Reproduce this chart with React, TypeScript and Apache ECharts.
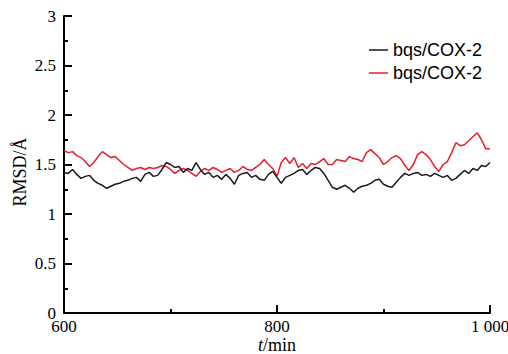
import React, { useEffect, useRef } from "react";
import * as echarts from "echarts";

// time sampling (min)
const T_START = 600;
const T_STEP = 4;

// RMSD values (Å), one every 4 min from 600 to 1000
const blackRmsd = [
  1.42, 1.41, 1.45, 1.40, 1.36, 1.38, 1.39, 1.34, 1.31, 1.29,
  1.26, 1.28, 1.30, 1.31, 1.33, 1.34, 1.36, 1.37, 1.33, 1.40,
  1.42, 1.38, 1.39, 1.45, 1.52, 1.50, 1.47, 1.48, 1.42, 1.46,
  1.44, 1.52, 1.45, 1.40, 1.42, 1.37, 1.39, 1.35, 1.40, 1.36,
  1.30, 1.39, 1.41, 1.42, 1.37, 1.39, 1.35, 1.34, 1.40, 1.43,
  1.37, 1.31, 1.37, 1.39, 1.41, 1.44, 1.45, 1.40, 1.44, 1.47,
  1.46, 1.41, 1.34, 1.27, 1.25, 1.27, 1.29, 1.26, 1.22, 1.26,
  1.28, 1.29, 1.31, 1.34, 1.35, 1.30, 1.28, 1.27, 1.32, 1.37,
  1.41, 1.39, 1.41, 1.42, 1.39, 1.40, 1.38, 1.41, 1.39, 1.37,
  1.39, 1.34, 1.36, 1.40, 1.44, 1.41, 1.46, 1.44, 1.49, 1.48,
  1.52,
];
const redRmsd = [
  1.64, 1.62, 1.63, 1.59, 1.57, 1.53, 1.48, 1.52, 1.58, 1.63,
  1.60, 1.57, 1.58, 1.54, 1.50, 1.47, 1.44, 1.46, 1.47, 1.45,
  1.47, 1.46, 1.47, 1.49, 1.48, 1.45, 1.41, 1.44, 1.46, 1.44,
  1.41, 1.38, 1.43, 1.46, 1.44, 1.47, 1.45, 1.42, 1.44, 1.46,
  1.42, 1.44, 1.48, 1.45, 1.44, 1.47, 1.50, 1.55, 1.50, 1.46,
  1.38, 1.52, 1.57, 1.51, 1.57, 1.47, 1.51, 1.46, 1.51, 1.50,
  1.53, 1.56, 1.50, 1.50, 1.55, 1.54, 1.53, 1.58, 1.56, 1.55,
  1.53, 1.62, 1.65, 1.61, 1.57, 1.50, 1.53, 1.57, 1.59, 1.56,
  1.49, 1.44, 1.50, 1.60, 1.63, 1.60, 1.55, 1.48, 1.43, 1.50,
  1.53, 1.62, 1.72, 1.69, 1.70, 1.74, 1.78, 1.82, 1.75, 1.66,
  1.66,
];

const seriesKeys = ["black", "red"];
const legendLabels = ["bqs/COX-2", "bqs/COX-2"];
const seriesColors = ["#1a1a1a", "#e61e2a"];
const xLabelMap: Record<number, string> = { 600: "600", 800: "800", 1000: "1 000" };
const yTitle = "RMSD/Å";

const SERIF = "'Liberation Serif', 'Times New Roman', serif";
const SANS = "'Liberation Sans', Arial, sans-serif";

export default function App() {
  const ref = useRef<HTMLDivElement>(null);

  useEffect(() => {
    if (!ref.current) return;
    const chart = echarts.init(ref.current, null, { renderer: "svg" });
    const toPairs = (arr: number[]) => arr.map((v, i) => [T_START + i * T_STEP, v]);
    const datasets = [blackRmsd, redRmsd];

    chart.setOption({
      animation: false,
      backgroundColor: "#ffffff",
      grid: { left: 64, right: 18, top: 16, bottom: 41, containLabel: false, outerBoundsMode: "none" },
      xAxis: {
        type: "value",
        min: 600,
        max: 1000,
        interval: 200,
        axisLine: { lineStyle: { color: "#000", width: 2 } },
        axisTick: { inside: true, length: 8, lineStyle: { color: "#000", width: 2 } },
        minorTick: { show: true, splitNumber: 2, length: 4, lineStyle: { color: "#000", width: 2 } },
        splitLine: { show: false },
        axisLabel: {
          color: "#000",
          fontFamily: SERIF,
          fontSize: 17,
          lineHeight: 15,
          margin: 6,
          formatter: (v: number) => xLabelMap[v] ?? String(v),
        },
        name: "{i|t}/min",
        nameLocation: "middle",
        nameGap: 23,
        nameMoveOverlap: false,
        nameTextStyle: {
          color: "#000",
          fontFamily: SERIF,
          fontSize: 18,
          lineHeight: 17,
          rich: { i: { fontStyle: "italic", fontFamily: SERIF, fontSize: 18, lineHeight: 17, color: "#000" } },
        },
      },
      yAxis: {
        type: "value",
        min: 0,
        max: 3,
        interval: 0.5,
        axisLine: { show: true, lineStyle: { color: "#000", width: 2 } },
        axisTick: { show: true, inside: true, length: 8, lineStyle: { color: "#000", width: 2 } },
        minorTick: { show: true, splitNumber: 2, length: 4, lineStyle: { color: "#000", width: 2 } },
        splitLine: { show: false },
        axisLabel: { color: "#000", fontFamily: SERIF, fontSize: 17, lineHeight: 14, margin: 8 },
      },
      legend: {
        orient: "vertical",
        left: 364,
        top: 36,
        icon: "rect",
        itemWidth: 19,
        itemHeight: 1.5,
        itemGap: 5,
        textStyle: { color: "#000", fontFamily: SANS, fontSize: 18, lineHeight: 18 },
        formatter: (name: string) => legendLabels[seriesKeys.indexOf(name)],
        data: seriesKeys,
      },
      graphic: [
        {
          type: "text",
          x: 20,
          y: 172,
          rotation: Math.PI / 2,
          style: {
            text: yTitle,
            fontFamily: SERIF,
            fontSize: 18,
            fill: "#000",
            textAlign: "center",
            textVerticalAlign: "middle",
          },
        },
      ],
      series: seriesKeys.map((key, i) => ({
        name: key,
        type: "line",
        data: toPairs(datasets[i]),
        showSymbol: false,
        symbol: "none",
        lineStyle: { color: seriesColors[i], width: 1.5 },
        itemStyle: { color: seriesColors[i] },
        z: i === 0 ? 3 : 2,
      })),
    });

    return () => chart.dispose();
  }, []);

  return (
    <div
      ref={ref}
      style={{ position: "fixed", left: 0, top: 0, width: 508, height: 354 }}
    />
  );
}
